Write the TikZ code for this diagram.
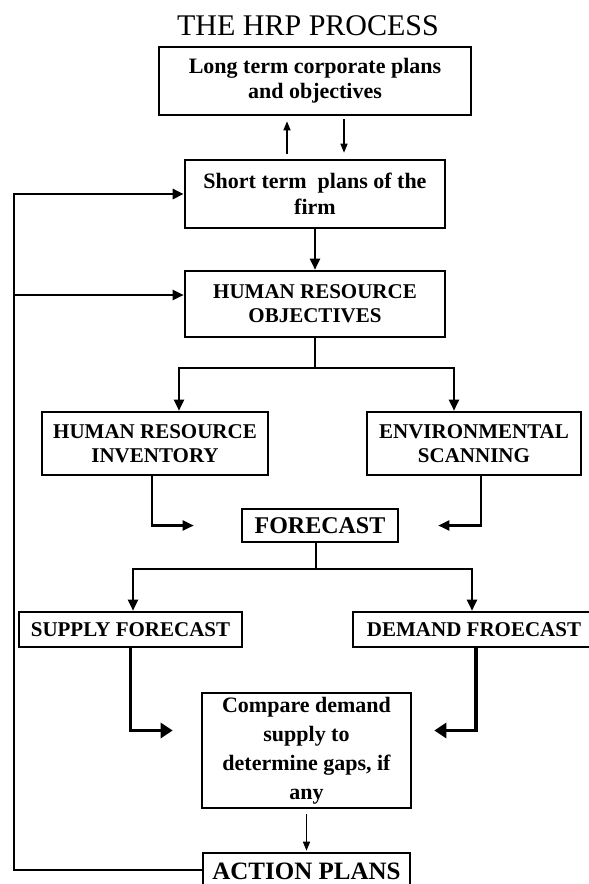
\documentclass[tikz,border=0pt]{standalone}
\usepackage{fontspec}
\setmainfont{Liberation Serif}
\usetikzlibrary{arrows.meta}

\begin{document}
\begin{tikzpicture}[x=1pt, y=-1pt, >={Triangle[length=11pt,width=10pt]},
    box/.style={rectangle, draw, line width=2.6pt, inner sep=0pt, align=center, font=\bfseries\fontsize{21}{24}\selectfont},
    link/.style={->, line width=2.2pt},
    biglink/.style={-{Triangle[length=12pt,width=15pt]}, line width=3.5pt},
    thinlink/.style={-{Triangle[length=9pt,width=7pt]}, line width=1.4pt}]
    \useasboundingbox (0,0) rectangle (589,884);
    \node[anchor=base, font=\fontsize{30}{32}\selectfont] (title) at (308,35) {THE HRP PROCESS};
    \node[box, minimum width=312pt, minimum height=68pt, font=\bfseries\fontsize{22}{25}\selectfont] (lt) at (315,81) {Long term corporate plans\\and objectives};
    \node[box, minimum width=260pt, minimum height=68pt, font=\bfseries\fontsize{22}{26}\selectfont] (st) at (315,194) {Short term\ \ plans of the\\firm};
    \node[box, minimum width=260pt, minimum height=66pt] (hro) at (315,304) {HUMAN RESOURCE\\OBJECTIVES};
    \node[box, minimum width=226pt, minimum height=63pt] (hri) at (155,443.5) {HUMAN RESOURCE\\INVENTORY};
    \node[box, minimum width=214pt, minimum height=63pt] (env) at (474,443.5) {ENVIRONMENTAL\\SCANNING};
    \node[box, minimum width=156pt, minimum height=33pt, font=\bfseries\fontsize{24}{26}\selectfont] (fc) at (320,525.5) {FORECAST};
    \node[box, minimum width=223pt, minimum height=35pt] (sup) at (130.5,629.5) {SUPPLY FORECAST};
    \node[box, minimum width=242pt, minimum height=35pt] (dem) at (474,629.5) {DEMAND FROECAST};
    \node[box, minimum width=209pt, minimum height=115pt, font=\bfseries\fontsize{22}{29}\selectfont] (cmp) at (306.5,750.5) {Compare demand\\supply to\\determine gaps, if\\any};
    \node[box, minimum width=207pt, minimum height=36pt, font=\bfseries\fontsize{25}{28}\selectfont] (act) at (306.5,871) {ACTION PLANS};

    % long term <-> short term
    \draw[thinlink, shorten <=5pt, shorten >=5pt] ([xshift=-28pt]st.north) -- ([xshift=-28pt]st.north |- lt.south);
    \draw[thinlink, shorten <=3pt, shorten >=6pt] ([xshift=29pt]lt.south) -- ([xshift=29pt]lt.south |- st.north);
    \draw[link] (st) -- (hro);

    % objectives split
    \draw[link] (hro.south) -- ++(0,30) -| ([xshift=24pt]hri.north);
    \draw[link] (hro.south) -- ++(0,30) -| ([xshift=-20pt]env.north);
    \draw[link, shorten >=47pt] ([xshift=-3pt]hri.south) |- (fc.west);
    \draw[link, shorten >=39pt] ([xshift=7pt]env.south) |- (fc.east);

    % forecast split
    \draw[link] ([xshift=-4pt]fc.south) -- ++(0,26) -| ([xshift=2.5pt]sup.north);
    \draw[link] ([xshift=-4pt]fc.south) -- ++(0,26) -| ([xshift=-2pt]dem.north);
    \draw[biglink, shorten >=28pt] (sup.south) |- ([yshift=20pt]cmp.west);
    \draw[biglink, shorten >=22pt] ([xshift=2pt]dem.south) |- ([yshift=20pt]cmp.east);
    \draw[thinlink, shorten <=5pt, shorten >=1pt] (cmp) -- (act);

    % feedback loop
    \coordinate (fbtop) at (14,194);
    \coordinate (fbmid) at (14,295);
    \draw[link, line width=2.6pt] ([yshift=1pt]act.west) -| (fbtop) -- (st.west);
    \draw[link] (fbmid) -- (fbmid -| hro.west);
\end{tikzpicture}
\end{document}
